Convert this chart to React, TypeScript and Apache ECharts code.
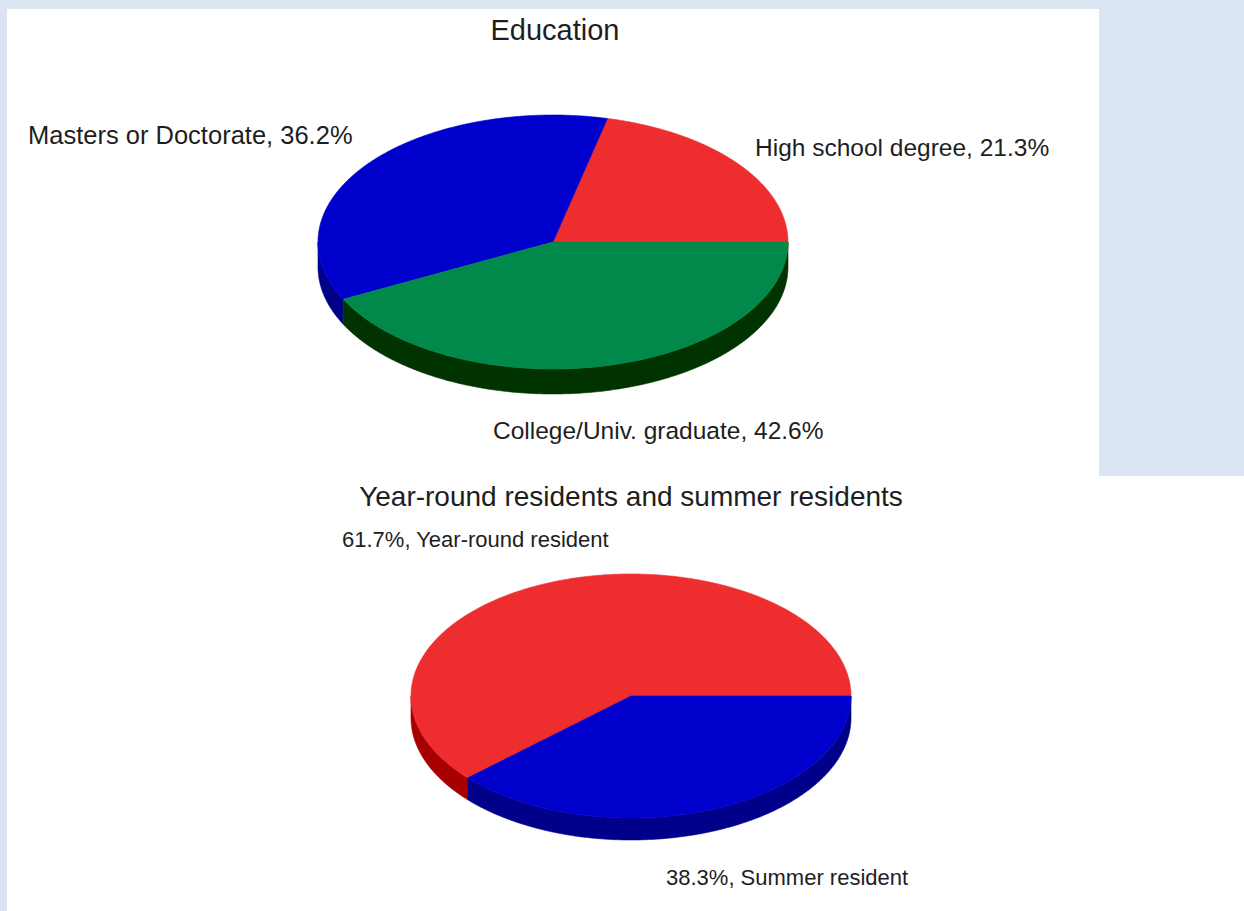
import React, { useEffect, useRef } from "react";
import * as echarts from "echarts";

// ---- Data ----
const eduTitle = "Education";
const eduCategories = ["High school degree", "Masters or Doctorate", "College/Univ. graduate"];
const eduValues = [21.3, 36.2, 42.6];

const resTitle = "Year-round residents and summer residents";
const resCategories = ["Year-round resident", "Summer resident"];
const resValues = [61.7, 38.3];

// ---- Styles ----
const eduTop = ["#ee2e2e", "#0000cc", "#00894a"];
const eduSide = ["#a80000", "#00008a", "#003300"];
const resTop = ["#ee2e2e", "#0000cc"];
const resSide = ["#a80000", "#00008a"];

const FONT = '"Liberation Sans", Arial, Helvetica, sans-serif';
const TEXT = "#1e1e1e";

type Geo = { cx: number; cy: number; rx: number; ry: number; depth: number };

const eduGeo: Geo = { cx: 553, cy: 242, rx: 235, ry: 127, depth: 25 };
const resGeo: Geo = { cx: 631, cy: 696, rx: 220, ry: 122, depth: 22 };

function sliceAngles(values: number[]): [number, number][] {
  const total = values.reduce((s, v) => s + v, 0);
  let acc = 0;
  return values.map((v) => {
    const a1 = (acc / total) * 360;
    acc += v;
    const a2 = (acc / total) * 360;
    return [a1, a2];
  });
}

function ellipsePts(g: Geo, a1: number, a2: number, dy: number): number[][] {
  const pts: number[][] = [];
  const n = Math.max(2, Math.ceil(Math.abs(a2 - a1) / 0.5));
  for (let k = 0; k <= n; k++) {
    const a = ((a1 + ((a2 - a1) * k) / n) * Math.PI) / 180;
    pts.push([g.cx + g.rx * Math.cos(a), g.cy - g.ry * Math.sin(a) + dy]);
  }
  return pts;
}

function sideSeries(values: number[], g: Geo, colors: string[]) {
  const angles = sliceAngles(values);
  return {
    type: "custom",
    coordinateSystem: "none",
    silent: true,
    z: 2,
    data: values,
    renderItem: (params: any) => {
      const [a1, a2] = angles[params.dataIndex];
      const s = Math.max(a1, 180);
      const e = Math.min(a2, 360);
      if (s >= e) return { type: "group", children: [] };
      const top = ellipsePts(g, s, e, 0);
      const bottom = ellipsePts(g, e, s, g.depth);
      const c = colors[params.dataIndex];
      return {
        type: "polygon",
        shape: { points: top.concat(bottom) },
        style: { fill: c, stroke: c, lineWidth: 0.6 },
      };
    },
  };
}

function topSeries(values: number[], g: Geo, colors: string[]) {
  const angles = sliceAngles(values);
  return {
    type: "custom",
    coordinateSystem: "none",
    silent: true,
    z: 3,
    data: values,
    renderItem: (params: any) => {
      const [a1, a2] = angles[params.dataIndex];
      const pts = [[g.cx, g.cy]].concat(ellipsePts(g, a1, a2, 0));
      const c = colors[params.dataIndex];
      return {
        type: "polygon",
        shape: { points: pts },
        style: { fill: c, stroke: c, lineWidth: 0.6 },
      };
    },
  };
}

function txt(text: string, x: number, y: number, size: number, align: string) {
  return {
    type: "text",
    silent: true,
    z: 10,
    style: {
      text,
      x,
      y,
      fill: TEXT,
      fontSize: size,
      fontFamily: FONT,
      align,
      textAlign: align,
      verticalAlign: "middle",
      textVerticalAlign: "middle",
    },
  };
}

export default function App() {
  const ref = useRef<HTMLDivElement>(null);
  useEffect(() => {
    if (!ref.current) return;
    const chart = echarts.init(ref.current, undefined, { renderer: "svg" });
    const eduLabel = (i: number) => `${eduCategories[i]}, ${eduValues[i].toFixed(1)}%`;
    const resLabel = (i: number) => `${resValues[i].toFixed(1)}%, ${resCategories[i]}`;
    chart.setOption({
      animation: false,
      backgroundColor: "#dbe5f1",
      graphic: [
        { type: "rect", silent: true, z: 0, shape: { x: 7, y: 9, width: 1092, height: 467 }, style: { fill: "#ffffff" } },
        { type: "rect", silent: true, z: 0, shape: { x: 7, y: 476, width: 1237, height: 435 }, style: { fill: "#ffffff" } },
        txt(eduTitle, 555, 30, 29, "center"),
        txt(eduLabel(1), 28, 135, 25.5, "left"),
        txt(eduLabel(0), 755, 147, 24.5, "left"),
        txt(eduLabel(2), 493, 430, 24.5, "left"),
        txt(resTitle, 631, 496, 28, "center"),
        txt(resLabel(0), 342, 539, 22, "left"),
        txt(resLabel(1), 666, 877, 22, "left"),
      ],
      series: [
        sideSeries(eduValues, eduGeo, eduSide),
        topSeries(eduValues, eduGeo, eduTop),
        sideSeries(resValues, resGeo, resSide),
        topSeries(resValues, resGeo, resTop),
      ],
    });
    return () => chart.dispose();
  }, []);
  return (
    <div
      ref={ref}
      style={{ position: "absolute", left: 0, top: 0, width: 1244, height: 911 }}
    />
  );
}
